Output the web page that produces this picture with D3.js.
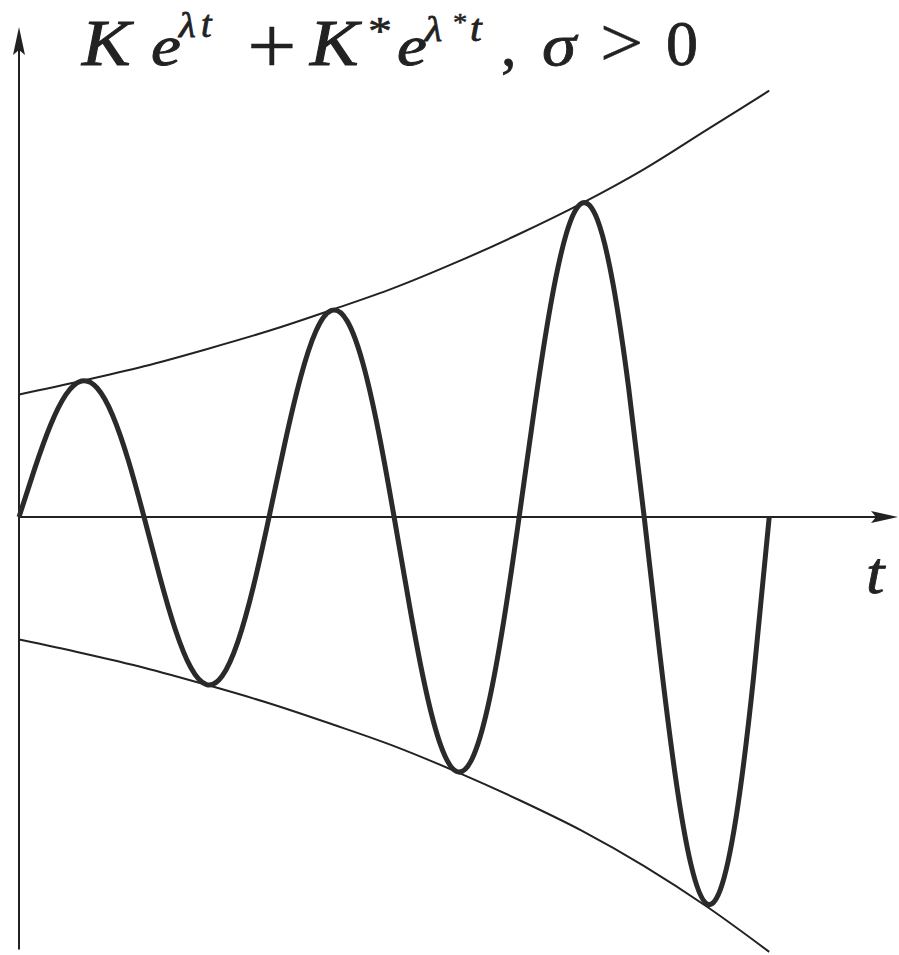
<!DOCTYPE html>
<html>
<head>
<meta charset="utf-8">
<script src="https://cdn.jsdelivr.net/npm/d3@7"></script>
<style>
  html, body { margin: 0; padding: 0; background: #fff; }
  svg { display: block; }
</style>
</head>
<body>
<script>
// Growing oscillation sampled every 1/8 of a time unit (one unit = half a period)
const oscStep = 0.125;
const oscValues = [
  0, 0.393, 0.745, 0.999, 1.110, 1.053, 0.827, 0.460,
  0, -0.484, -0.918, -1.231, -1.368, -1.298, -1.019, -0.566,
  0, 0.597, 1.132, 1.518, 1.686, 1.599, 1.256, 0.698,
  0, -0.735, -1.395, -1.871, -2.078, -1.971, -1.548, -0.860,
  0, 0.906, 1.719, 2.305, 2.561, 2.429, 1.908, 1.060,
  0, -1.117, -2.119, -2.841, -3.157, -2.994, -2.352, -1.307,
  0
];

// Envelope curves ±|K| e^{σt}
const envT     = [0, 0.5, 1, 1.5, 2, 2.5, 3, 3.5, 4, 4.5, 5, 5.5, 6];
const envUpper = [1.00, 1.11, 1.23, 1.37, 1.52, 1.69, 1.87, 2.08, 2.31, 2.56, 2.84, 3.16, 3.48];
const envLower = [-1.00, -1.11, -1.23, -1.37, -1.52, -1.69, -1.87, -2.08, -2.31, -2.56, -2.85, -3.18, -3.55];

// Axis extents
const tAxisMax = 7.03;
const yAxisMin = -3.53, yAxisMax = 4.0;

// Title pieces: glyphs, left x, baseline y, font size, horizontal stretch, italic, stroke weight
const titlePieces = [
  { s: "K", x: 82,  y: 65, size: 65, sx: 1.12, it: true,  w: 1.0 },
  { s: "e", x: 151, y: 65, size: 56, sx: 1.2,  it: true,  w: 1.0 },
  { s: "λ", x: 179, y: 37, size: 35, sx: 1.1,  it: true,  w: 0.8 },
  { s: "t", x: 201, y: 37, size: 38, sx: 1.0,  it: true,  w: 0.8 },
  { s: "+", x: 247, y: 73, size: 80, sx: 1.1,  it: false, w: 0.3 },
  { s: "K", x: 310, y: 65, size: 65, sx: 1.12, it: true,  w: 1.0 },
  { s: "*", x: 368, y: 44, size: 40, sx: 1.2,  it: false, w: 0.6 },
  { s: "e", x: 397, y: 65, size: 56, sx: 1.2,  it: true,  w: 1.0 },
  { s: "λ", x: 425, y: 41, size: 36, sx: 1.1,  it: true,  w: 0.8 },
  { s: "*", x: 453, y: 31, size: 26, sx: 1.1,  it: false, w: 0.5 },
  { s: "t", x: 470, y: 41, size: 38, sx: 1.1,  it: true,  w: 0.8 },
  { s: ",", x: 501, y: 65, size: 62, sx: 1.0,  it: false, w: 0.8 },
  { s: "σ", x: 542, y: 65, size: 60, sx: 1.15, it: true,  w: 0.8 },
  { s: ">", x: 600, y: 66, size: 70, sx: 1.1,  it: false, w: 0.4 },
  { s: "0", x: 666, y: 65, size: 64, sx: 1.0,  it: false, w: 0.8 }
];

const W = 899, H = 955;
const svg = d3.select("body").append("svg").attr("width", W).attr("height", H);

const x = d3.scaleLinear().domain([0, tAxisMax]).range([19, 898]);
const y = d3.scaleLinear().domain([-3.6, 3.6]).range([958, 76]);

const ink = "#222";

// axes
svg.append("line")
  .attr("x1", x(0)).attr("x2", x(tAxisMax) - 20)
  .attr("y1", y(0)).attr("y2", y(0))
  .attr("stroke", ink).attr("stroke-width", 2);
svg.append("path")
  .attr("d", `M${x(tAxisMax)},${y(0)} L${x(tAxisMax) - 27},${y(0) - 6} L${x(tAxisMax) - 22},${y(0)} L${x(tAxisMax) - 27},${y(0) + 6} Z`)
  .attr("fill", ink);

svg.append("line")
  .attr("x1", x(0)).attr("x2", x(0))
  .attr("y1", y(yAxisMin)).attr("y2", y(yAxisMax) + 20)
  .attr("stroke", ink).attr("stroke-width", 2);
svg.append("path")
  .attr("d", `M${x(0)},${y(yAxisMax)} L${x(0) - 6},${y(yAxisMax) + 28} L${x(0)},${y(yAxisMax) + 23} L${x(0) + 6},${y(yAxisMax) + 28} Z`)
  .attr("fill", ink);

// envelopes
const envLine = d3.line().x(d => x(d[0])).y(d => y(d[1])).curve(d3.curveMonotoneX);
svg.append("path")
  .attr("d", envLine(envT.map((t, i) => [t, envUpper[i]])))
  .attr("fill", "none").attr("stroke", ink).attr("stroke-width", 2);
svg.append("path")
  .attr("d", envLine(envT.map((t, i) => [t, envLower[i]])))
  .attr("fill", "none").attr("stroke", ink).attr("stroke-width", 2);

// oscillation
const oscLine = d3.line().x((d, i) => x(i * oscStep)).y(d => y(d)).curve(d3.curveNatural);
svg.append("path")
  .attr("d", oscLine(oscValues))
  .attr("fill", "none").attr("stroke", "#2a2a2a").attr("stroke-width", 5)
  .attr("stroke-linejoin", "round").attr("stroke-linecap", "butt");

// title
const font = "'Liberation Serif', 'DejaVu Serif', serif";
svg.append("g").selectAll("text").data(titlePieces).join("text")
  .attr("transform", d => `translate(${d.x},${d.y}) scale(${d.sx},1)`)
  .attr("font-family", font)
  .attr("font-size", d => d.size)
  .attr("font-style", d => d.it ? "italic" : "normal")
  .attr("fill", ink)
  .attr("stroke", ink)
  .attr("stroke-width", d => d.w)
  .text(d => d.s);

// t axis label
svg.append("text")
  .attr("transform", "translate(866,593) scale(1.1,1)")
  .attr("font-family", font).attr("font-size", 60).attr("font-style", "italic")
  .attr("fill", ink).attr("stroke", ink).attr("stroke-width", 0.8)
  .text("t");
</script>
</body>
</html>
